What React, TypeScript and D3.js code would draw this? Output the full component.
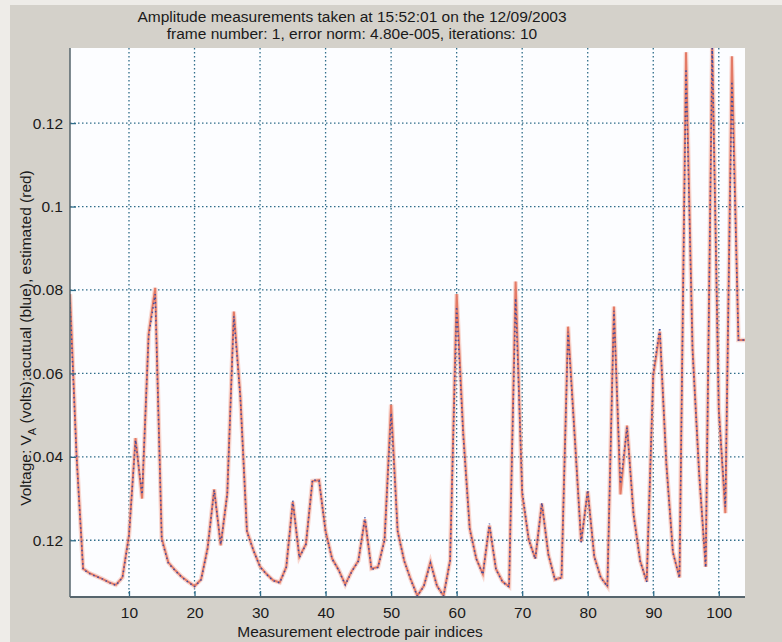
import React, { useEffect, useRef } from 'react'
import * as d3 from 'd3'

// electrode pair index 1..104
const pairIndex = d3.range(1, 105)

const actual = [
  0.0770, 0.0400, 0.0130, 0.0120, 0.0113, 0.0107, 0.0098, 0.0092, 0.0110, 0.0210,
  0.0440, 0.0310, 0.0690, 0.0790, 0.0200, 0.0145, 0.0128, 0.0112, 0.0100, 0.0089,
  0.0105, 0.0180, 0.0320, 0.0190, 0.0310, 0.0737, 0.0540, 0.0220, 0.0175, 0.0136,
  0.0118, 0.0103, 0.0098, 0.0135, 0.0295, 0.0158, 0.0190, 0.0345, 0.0343, 0.0220,
  0.0155, 0.0128, 0.0093, 0.0125, 0.0150, 0.0255, 0.0130, 0.0135, 0.0200, 0.0505,
  0.0220, 0.0150, 0.0105, 0.0066, 0.0090, 0.0145, 0.0090, 0.0066, 0.0150, 0.0760,
  0.0450, 0.0225, 0.0155, 0.0118, 0.0240, 0.0130, 0.0100, 0.0088, 0.0780, 0.0320,
  0.0200, 0.0155, 0.0290, 0.0165, 0.0105, 0.0110, 0.0700, 0.0450, 0.0195, 0.0320,
  0.0160, 0.0110, 0.0089, 0.0750, 0.0335, 0.0470, 0.0260, 0.0150, 0.0100, 0.0600,
  0.0710, 0.0380, 0.0170, 0.0110, 0.1330, 0.0650, 0.0360, 0.0135, 0.1380, 0.0510,
  0.0280, 0.1300, 0.0680, 0.0680
]

// estimated (red) voltages
const estimated = [
  0.0790, 0.0405, 0.0132, 0.0121, 0.0114, 0.0107, 0.0099, 0.0093, 0.0111, 0.0212,
  0.0445, 0.0300, 0.0695, 0.0805, 0.0205, 0.0147, 0.0129, 0.0113, 0.0101, 0.0090,
  0.0106, 0.0182, 0.0322, 0.0188, 0.0312, 0.0748, 0.0545, 0.0222, 0.0176, 0.0137,
  0.0119, 0.0104, 0.0099, 0.0136, 0.0292, 0.0160, 0.0191, 0.0342, 0.0344, 0.0222,
  0.0156, 0.0129, 0.0094, 0.0126, 0.0151, 0.0250, 0.0132, 0.0136, 0.0202, 0.0525,
  0.0222, 0.0151, 0.0106, 0.0067, 0.0091, 0.0148, 0.0091, 0.0067, 0.0152, 0.0790,
  0.0460, 0.0228, 0.0156, 0.0119, 0.0235, 0.0131, 0.0101, 0.0089, 0.0820, 0.0310,
  0.0202, 0.0156, 0.0288, 0.0166, 0.0106, 0.0111, 0.0712, 0.0455, 0.0196, 0.0318,
  0.0161, 0.0111, 0.0090, 0.0760, 0.0310, 0.0475, 0.0262, 0.0151, 0.0101, 0.0595,
  0.0700, 0.0385, 0.0172, 0.0111, 0.1370, 0.0660, 0.0362, 0.0136, 0.1390, 0.0515,
  0.0265, 0.1360, 0.0680, 0.0680
]

const xTicks = [10, 20, 30, 40, 50, 60, 70, 80, 90, 100]
const yTicks = [0.02, 0.04, 0.06, 0.08, 0.1, 0.12]
// labels as printed on the original figure
const yTickLabels = ['0.12', '0.04', '0.06', '0.08', '0.1', '0.12']

const titleLines = [
  'Amplitude measurements taken at 15:52:01 on the 12/09/2003',
  'frame number: 1, error norm: 4.80e-005, iterations: 10'
]
const xLabel = 'Measurement electrode pair indices'

const FONT = '"Liberation Sans", Arial, Helvetica, sans-serif'

export default function App() {
  const ref = useRef<SVGSVGElement>(null)

  useEffect(() => {
    const width = 782
    const height = 642
    const margin = { top: 48, right: 37, bottom: 45, left: 70 }
    const innerW = width - margin.left - margin.right
    const innerH = height - margin.top - margin.bottom

    const svg = d3.select(ref.current)
    svg.selectAll('*').remove()

    // window background
    svg.append('rect').attr('width', width).attr('height', height).attr('fill', '#eeece8')
    svg.append('rect').attr('x', 10).attr('y', 5).attr('width', width - 10).attr('height', height - 5).attr('fill', '#d4d1ca')

    const x = d3.scaleLinear().domain([1, 104]).range([0, innerW])
    const y = d3.scaleLinear().domain([0.0064, 0.138]).range([innerH, 0])

    const chart = svg.append('g').attr('transform', `translate(${margin.left},${margin.top})`)

    chart.append('rect').attr('width', innerW).attr('height', innerH).attr('fill', '#fcfdff')

    chart.append('clipPath').attr('id', 'plot-clip')
      .append('rect').attr('width', innerW).attr('height', innerH)

    // dotted grid
    const gridColor = '#2f6d8a'
    chart.append('g').selectAll('line').data(xTicks).join('line')
      .attr('x1', d => x(d)).attr('x2', d => x(d))
      .attr('y1', 0).attr('y2', innerH)
      .attr('stroke', gridColor).attr('stroke-width', 1.3)
      .attr('stroke-dasharray', '1.5,2.5')
    chart.append('g').selectAll('line').data(yTicks).join('line')
      .attr('y1', d => y(d)).attr('y2', d => y(d))
      .attr('x1', 0).attr('x2', innerW)
      .attr('stroke', gridColor).attr('stroke-width', 1.3)
      .attr('stroke-dasharray', '1.5,2.5')

    // lines
    const line = d3.line<number>()
      .x((_, i) => x(pairIndex[i]))
      .y(d => y(d))

    const plot = chart.append('g').attr('clip-path', 'url(#plot-clip)')
    plot.append('path').datum(estimated).attr('d', line)
      .attr('fill', 'none').attr('stroke', '#f4b8aa').attr('stroke-width', 4.5).attr('opacity', 0.55)
    plot.append('path').datum(estimated).attr('d', line)
      .attr('fill', 'none').attr('stroke', '#e37a66').attr('stroke-width', 2)
    plot.append('path').datum(actual).attr('d', line)
      .attr('fill', 'none').attr('stroke', '#3b4ca3').attr('stroke-width', 1.5)
      .attr('stroke-dasharray', '1.5,3')

    // axes
    const axisColor = '#56656d'
    const xAxis = chart.append('g').attr('transform', `translate(0,${innerH})`)
      .call(d3.axisBottom(x).tickValues(xTicks).tickSize(-6).tickPadding(10).tickFormat(d3.format('d')))
    const yAxis = chart.append('g')
      .call(d3.axisLeft(y).tickValues(yTicks).tickSize(-6).tickPadding(7)
        .tickFormat((_, i) => yTickLabels[i]))

    ;[xAxis, yAxis].forEach(g => {
      g.select('.domain').remove()
      g.selectAll('.tick line').attr('stroke', gridColor).attr('stroke-width', 1.3)
      g.selectAll('.tick text').attr('fill', '#1a1a1a').style('font-family', FONT).style('font-size', '15.5px')
    })
    xAxis.selectAll('.tick text').attr('dy', '0.71em')

    chart.append('line').attr('x1', 0).attr('x2', 0).attr('y1', 0).attr('y2', innerH)
      .attr('stroke', axisColor).attr('stroke-width', 1.5)
    chart.append('line').attr('x1', 0).attr('x2', innerW).attr('y1', innerH).attr('y2', innerH)
      .attr('stroke', axisColor).attr('stroke-width', 2)

    // title
    svg.append('g').selectAll('text').data(titleLines).join('text')
      .attr('x', 352).attr('y', (_, i) => 22 + i * 17)
      .attr('text-anchor', 'middle')
      .style('font-family', FONT).style('font-size', '15.5px').attr('fill', '#1a1a1a')
      .text(d => d)

    // x label
    svg.append('text').attr('x', 360).attr('y', 637)
      .attr('text-anchor', 'middle')
      .style('font-family', FONT).style('font-size', '15.5px').attr('fill', '#1a1a1a')
      .text(xLabel)

    // y label with subscript
    const yl = svg.append('text')
      .attr('transform', 'rotate(-90)')
      .attr('x', -338).attr('y', 30.5)
      .attr('text-anchor', 'middle')
      .style('font-family', FONT).style('font-size', '15.5px').attr('fill', '#1a1a1a')
    yl.append('tspan').text('Voltage: V')
    yl.append('tspan').attr('dy', 5).style('font-size', '11px').text('A')
    yl.append('tspan').attr('dy', -5).text(' (volts):acutual (blue), estimated (red)')
  }, [])

  return (
    <svg ref={ref} width={782} height={642} style={{ position: 'absolute', left: 0, top: 0 }} />
  )
}
